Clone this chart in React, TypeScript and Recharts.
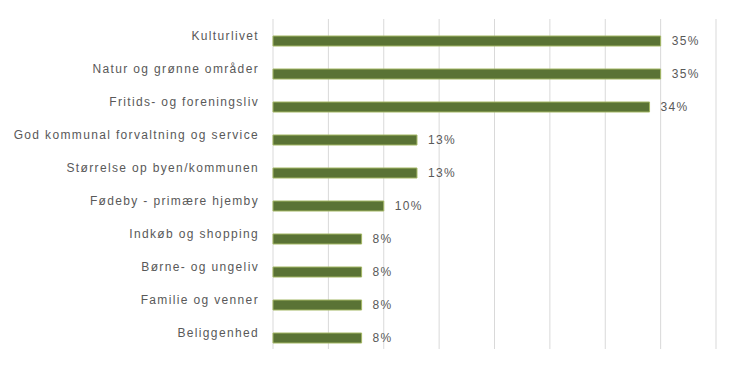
import React from "react";
import { BarChart, Bar, XAxis, YAxis, CartesianGrid, LabelList } from "recharts";

const categories = [
  "Kulturlivet",
  "Natur og grønne områder",
  "Fritids- og foreningsliv",
  "God kommunal forvaltning og service",
  "Størrelse op byen/kommunen",
  "Fødeby - primære hjemby",
  "Indkøb og shopping",
  "Børne- og ungeliv",
  "Familie og venner",
  "Beliggenhed",
];
const values = [35, 35, 34, 13, 13, 10, 8, 8, 8, 8];
const xTicks = [0, 5, 10, 15, 20, 25, 30, 35, 40];

const data = categories.map((name, i) => ({ name, value: values[i] }));

const FONT = "'Liberation Sans', Arial, sans-serif";
const TEXT_COLOR = "#595959";

const CatTick = (props: any) => {
  const { x, y, payload } = props;
  return (
    <text
      x={x}
      y={y}
      dy={-4.5}
      textAnchor="end"
      dominantBaseline="central"
      fill={TEXT_COLOR}
      fontSize={12}
      fontFamily={FONT}
      letterSpacing={1.35}
    >
      {payload.value}
    </text>
  );
};

const ValueLabel = (props: any) => {
  const { x, y, width, height, value } = props;
  return (
    <text
      x={x + width}
      y={y + height / 2}
      dx={11}
      textAnchor="start"
      dominantBaseline="central"
      fill={TEXT_COLOR}
      fontSize={12}
      fontFamily={FONT}
      letterSpacing={1.35}
    >
      {`${value}%`}
    </text>
  );
};

export default function App() {
  return (
    <div style={{ position: "absolute", left: 0, top: 0, width: 737, height: 370, background: "#fff" }}>
      <BarChart
        width={737}
        height={370}
        data={data}
        layout="vertical"
        margin={{ top: 19, right: 21, bottom: 21, left: 0 }}
      >
        <CartesianGrid horizontal={false} stroke="#d9d9d9" strokeWidth={1} />
        <XAxis type="number" domain={[0, 40]} ticks={xTicks} hide />
        <YAxis
          type="category"
          dataKey="name"
          width={273}
          axisLine={false}
          tickLine={false}
          tickSize={0}
          tickMargin={14}
          padding={{ top: 5, bottom: -5 }}
          tick={<CatTick />}
          interval={0}
        />
        <Bar
          dataKey="value"
          fill="#5a7335"
          stroke="#a3b764"
          strokeWidth={1}
          barSize={10}
          isAnimationActive={false}
        >
          <LabelList dataKey="value" content={<ValueLabel />} />
        </Bar>
      </BarChart>
    </div>
  );
}
